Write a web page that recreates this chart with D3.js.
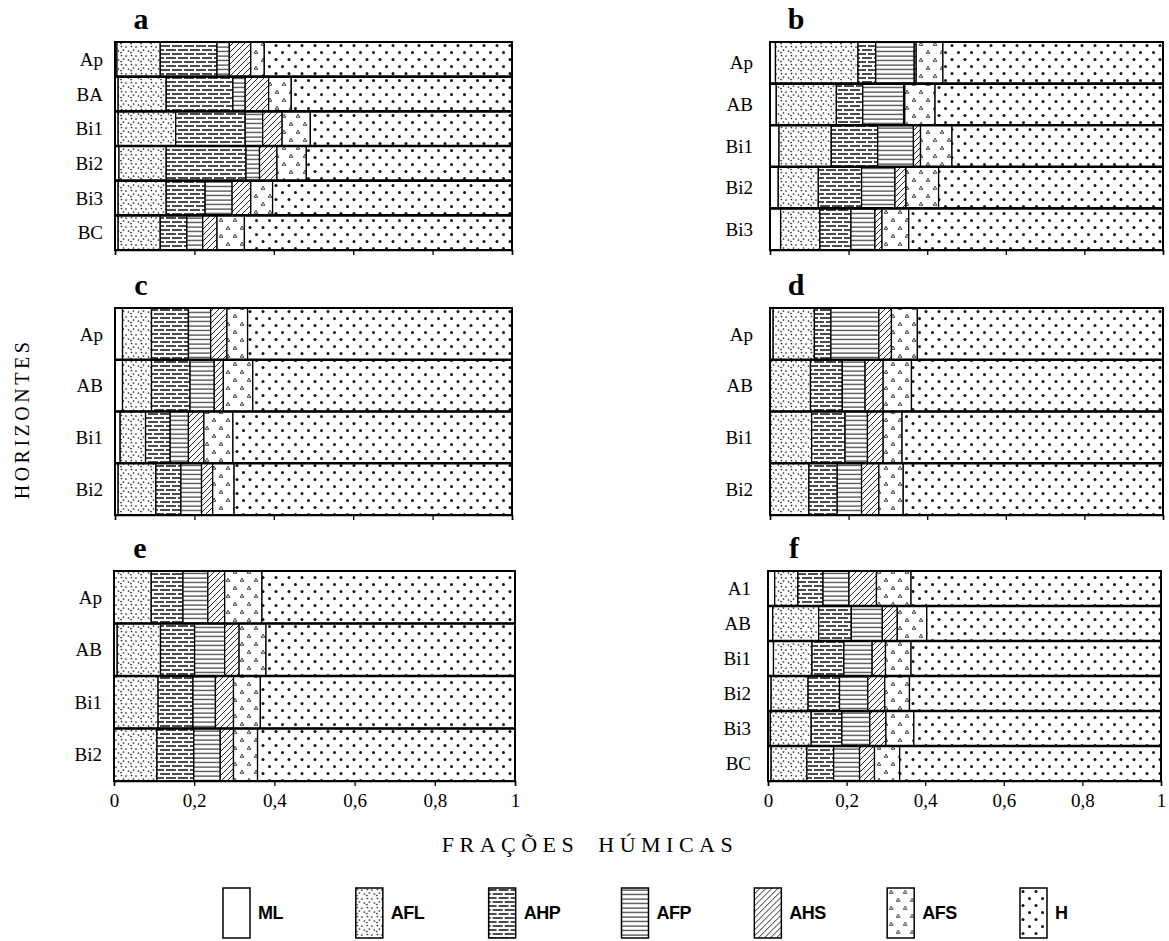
<!DOCTYPE html>
<html>
<head>
<meta charset="utf-8">
<script src="https://cdn.jsdelivr.net/npm/d3@7"></script>
<style>
  body { margin: 0; background: #fff; }
  svg { display: block; }
</style>
</head>
<body>
<div id="chart"></div>
<script>
// fractions, in stacking order from left to right
var fractions = ["ML", "AFL", "AHP", "AFP", "AHS", "AFS", "H"];

var xTicks = [0, 0.2, 0.4, 0.6, 0.8, 1];
var xTickLabels = ["0", "0,2", "0,4", "0,6", "0,8", "1"];

// each row: ML, AFL, AHP, AFP, AHS, AFS, H
var horizonsA = ["Ap", "BA", "Bi1", "Bi2", "Bi3", "BC"];
var valuesA = [
  [0.005, 0.109, 0.143, 0.031, 0.054, 0.034, 0.624],
  [0.008, 0.121, 0.168, 0.031, 0.059, 0.057, 0.556],
  [0.008, 0.145, 0.175, 0.044, 0.049, 0.071, 0.508],
  [0.010, 0.119, 0.201, 0.034, 0.044, 0.074, 0.518],
  [0.008, 0.121, 0.098, 0.068, 0.047, 0.055, 0.603],
  [0.008, 0.106, 0.067, 0.040, 0.036, 0.069, 0.674]
];

var horizonsB = ["Ap", "AB", "Bi1", "Bi2", "Bi3"];
var valuesB = [
  [0.014, 0.210, 0.045, 0.098, 0.005, 0.068, 0.560],
  [0.016, 0.153, 0.067, 0.104, 0.003, 0.077, 0.580],
  [0.023, 0.133, 0.118, 0.091, 0.018, 0.080, 0.537],
  [0.021, 0.102, 0.110, 0.085, 0.028, 0.083, 0.571],
  [0.027, 0.100, 0.079, 0.061, 0.018, 0.068, 0.647]
];

var horizonsC = ["Ap", "AB", "Bi1", "Bi2"];
var valuesC = [
  [0.019, 0.073, 0.093, 0.056, 0.041, 0.052, 0.666],
  [0.019, 0.073, 0.097, 0.061, 0.023, 0.074, 0.653],
  [0.013, 0.064, 0.062, 0.046, 0.039, 0.073, 0.703],
  [0.008, 0.095, 0.063, 0.052, 0.028, 0.054, 0.700]
];

var horizonsD = ["Ap", "AB", "Bi1", "Bi2"];
var valuesD = [
  [0.008, 0.105, 0.042, 0.122, 0.032, 0.066, 0.625],
  [0.000, 0.103, 0.081, 0.058, 0.046, 0.072, 0.640],
  [0.000, 0.106, 0.085, 0.057, 0.040, 0.048, 0.664],
  [0.000, 0.099, 0.072, 0.062, 0.044, 0.062, 0.661]
];

var horizonsE = ["Ap", "AB", "Bi1", "Bi2"];
var valuesE = [
  [0.000, 0.093, 0.079, 0.062, 0.042, 0.093, 0.631],
  [0.008, 0.108, 0.085, 0.075, 0.036, 0.067, 0.621],
  [0.000, 0.110, 0.087, 0.056, 0.045, 0.067, 0.635],
  [0.000, 0.107, 0.092, 0.066, 0.033, 0.060, 0.642]
];

var horizonsF = ["A1", "AB", "Bi1", "Bi2", "Bi3", "BC"];
var valuesF = [
  [0.017, 0.059, 0.064, 0.066, 0.070, 0.088, 0.636],
  [0.012, 0.117, 0.083, 0.079, 0.038, 0.075, 0.596],
  [0.014, 0.098, 0.081, 0.072, 0.034, 0.065, 0.636],
  [0.008, 0.094, 0.080, 0.072, 0.043, 0.063, 0.640],
  [0.006, 0.104, 0.078, 0.071, 0.041, 0.071, 0.629],
  [0.008, 0.091, 0.068, 0.066, 0.038, 0.064, 0.665]
];

var svgWidth = 1169;
var svgHeight = 941;

var svg = d3.select("#chart")
  .append("svg")
  .attr("width", svgWidth)
  .attr("height", svgHeight);

// ---- fill patterns ----
var defs = svg.append("defs");

// ML: empty
defs.append("pattern").attr("id", "p-ML")
  .attr("patternUnits", "userSpaceOnUse").attr("width", 4).attr("height", 4)
  .append("rect").attr("width", 4).attr("height", 4).attr("fill", "#fff");

// AFL: fine sparse dots
var pAFL = defs.append("pattern").attr("id", "p-AFL")
  .attr("patternUnits", "userSpaceOnUse").attr("width", 10).attr("height", 9);
pAFL.append("rect").attr("width", 10).attr("height", 9).attr("fill", "#fff");
[[1.5, 1.5], [6, 2], [3.5, 5], [8.5, 6], [1, 7.5]].forEach(function(p) {
  pAFL.append("circle").attr("cx", p[0]).attr("cy", p[1]).attr("r", 0.85).attr("fill", "#222");
});

// AHP: dashed horizontal lines
var pAHP = defs.append("pattern").attr("id", "p-AHP")
  .attr("patternUnits", "userSpaceOnUse").attr("width", 12).attr("height", 8);
pAHP.append("rect").attr("width", 12).attr("height", 8).attr("fill", "#fff");
pAHP.append("path")
  .attr("d", "M0,2H8 M10,2H12 M0,6H2 M4,6H12")
  .attr("stroke", "#111").attr("stroke-width", 1.5);

// AFP: solid horizontal lines
var pAFP = defs.append("pattern").attr("id", "p-AFP")
  .attr("patternUnits", "userSpaceOnUse").attr("width", 8).attr("height", 4.5);
pAFP.append("rect").attr("width", 8).attr("height", 4.5).attr("fill", "#fff");
pAFP.append("path").attr("d", "M0,2H8").attr("stroke", "#111").attr("stroke-width", 1);

// AHS: diagonal hatch
var pAHS = defs.append("pattern").attr("id", "p-AHS")
  .attr("patternUnits", "userSpaceOnUse").attr("width", 6).attr("height", 6);
pAHS.append("rect").attr("width", 6).attr("height", 6).attr("fill", "#fff");
pAHS.append("path").attr("d", "M-1,7L7,-1 M-1,1L1,-1 M5,7L7,5")
  .attr("stroke", "#111").attr("stroke-width", 0.9);

// AFS: small open triangles
var pAFS = defs.append("pattern").attr("id", "p-AFS")
  .attr("patternUnits", "userSpaceOnUse").attr("width", 14).attr("height", 16);
pAFS.append("rect").attr("width", 14).attr("height", 16).attr("fill", "#fff");
[[4, 4], [11, 12]].forEach(function(p) {
  pAFS.append("path")
    .attr("d", "M" + p[0] + "," + (p[1] - 1.8) + "L" + (p[0] + 1.8) + "," + (p[1] + 1.3) + "L" + (p[0] - 1.8) + "," + (p[1] + 1.3) + "Z")
    .attr("fill", "none").attr("stroke", "#111").attr("stroke-width", 0.8);
});

// H: larger staggered dots
var pH = defs.append("pattern").attr("id", "p-H")
  .attr("patternUnits", "userSpaceOnUse").attr("width", 13).attr("height", 14);
pH.append("rect").attr("width", 13).attr("height", 14).attr("fill", "#fff");
[[3, 3.5], [9.5, 10.5]].forEach(function(p) {
  pH.append("circle").attr("cx", p[0]).attr("cy", p[1]).attr("r", 1.5).attr("fill", "#111");
});

// ---- panels ----
var panels = [
  { name: "a", horizons: horizonsA, values: valuesA, x0: 115, x1: 512, y0: 42, y1: 250, left: true, labels: false },
  { name: "b", horizons: horizonsB, values: valuesB, x0: 770, x1: 1163, y0: 42, y1: 250, left: false, labels: false },
  { name: "c", horizons: horizonsC, values: valuesC, x0: 115, x1: 512, y0: 308, y1: 515, left: true, labels: false },
  { name: "d", horizons: horizonsD, values: valuesD, x0: 770, x1: 1163, y0: 308, y1: 515, left: false, labels: false },
  { name: "e", horizons: horizonsE, values: valuesE, x0: 114, x1: 515, y0: 571, y1: 781, left: true, labels: true },
  { name: "f", horizons: horizonsF, values: valuesF, x0: 768, x1: 1161, y0: 571, y1: 781, left: false, labels: true }
];

var stack = d3.stack().keys(fractions);

panels.forEach(function(p) {
  var g = svg.append("g");

  var xScale = d3.scaleLinear().domain([0, 1]).range([p.x0, p.x1]);
  var yScale = d3.scaleBand().domain(p.horizons).range([p.y0, p.y1]);

  var rows = p.values.map(function(v, i) {
    var o = { horizon: p.horizons[i] };
    fractions.forEach(function(f, j) { o[f] = v[j]; });
    return o;
  });

  var series = stack(rows);

  g.selectAll("g.series")
    .data(series)
    .enter()
    .append("g")
    .attr("class", "series")
    .attr("fill", function(s) { return "url(#p-" + s.key + ")"; })
    .selectAll("rect")
    .data(function(s) { return s; })
    .enter()
    .append("rect")
    .attr("x", function(d) { return xScale(d[0]); })
    .attr("y", function(d) { return yScale(d.data.horizon); })
    .attr("width", function(d) { return Math.max(0, xScale(d[1]) - xScale(d[0])); })
    .attr("height", yScale.bandwidth())
    .attr("stroke", "#000")
    .attr("stroke-width", 1.3);

  // thick separators between horizons
  g.selectAll("line.sep")
    .data(p.horizons.slice(1))
    .enter()
    .append("line")
    .attr("x1", p.x0).attr("x2", p.x1)
    .attr("y1", function(d) { return yScale(d); })
    .attr("y2", function(d) { return yScale(d); })
    .attr("stroke", "#000")
    .attr("stroke-width", 2.6);

  // frame
  g.append("rect")
    .attr("x", p.x0).attr("y", p.y0)
    .attr("width", p.x1 - p.x0).attr("height", p.y1 - p.y0)
    .attr("fill", "none")
    .attr("stroke", "#000")
    .attr("stroke-width", 2);

  // horizon labels
  g.selectAll("text.hz")
    .data(p.horizons)
    .enter()
    .append("text")
    .attr("x", p.left ? p.x0 - 12 : p.x0 - 17)
    .attr("y", function(d) { return yScale(d) + yScale.bandwidth() / 2; })
    .attr("dy", "0.35em")
    .attr("text-anchor", "end")
    .attr("font-family", "Liberation Serif, Times New Roman, serif")
    .attr("font-size", "19px")
    .text(function(d) { return d; });

  // panel letter
  g.append("text")
    .attr("x", p.x0 + 26)
    .attr("y", p.y0 - 13)
    .attr("text-anchor", "middle")
    .attr("font-family", "Liberation Serif, Times New Roman, serif")
    .attr("font-weight", "bold")
    .attr("font-size", "30px")
    .text(p.name);

  // x axis
  var xAxis = d3.axisBottom(xScale)
    .tickValues(xTicks)
    .tickSize(5)
    .tickFormat(function(d, i) { return p.labels ? xTickLabels[i] : ""; });

  var axisG = g.append("g")
    .attr("transform", "translate(0," + p.y1 + ")")
    .call(xAxis);

  axisG.select(".domain").attr("stroke-width", 1.5);
  axisG.selectAll(".tick line").attr("stroke-width", 1.3);
  axisG.selectAll(".tick text")
    .attr("y", 13)
    .attr("font-family", "Liberation Serif, Times New Roman, serif")
    .attr("font-size", "19px")
    .attr("fill", "#000");
});

// axis titles
svg.append("text")
  .attr("x", 590)
  .attr("y", 852)
  .attr("text-anchor", "middle")
  .attr("font-family", "Liberation Serif, Times New Roman, serif")
  .attr("font-size", "22px")
  .attr("letter-spacing", "5.5px")
  .attr("word-spacing", "8px")
  .text("FRAÇÕES HÚMICAS");

svg.append("text")
  .attr("transform", "translate(29,419) rotate(-90)")
  .attr("text-anchor", "middle")
  .attr("font-family", "Liberation Serif, Times New Roman, serif")
  .attr("font-size", "20px")
  .attr("letter-spacing", "3.5px")
  .text("HORIZONTES");

// legend
var legendX = d3.scaleLinear().domain([0, fractions.length - 1]).range([223, 1020]);

var legend = svg.selectAll("g.legend")
  .data(fractions)
  .enter()
  .append("g")
  .attr("class", "legend")
  .attr("transform", function(d, i) { return "translate(" + legendX(i) + ",888)"; });

legend.append("rect")
  .attr("width", 27)
  .attr("height", 50)
  .attr("fill", function(d) { return "url(#p-" + d + ")"; })
  .attr("stroke", "#000")
  .attr("stroke-width", 1.5);

legend.append("text")
  .attr("x", 35)
  .attr("y", 31)
  .attr("font-family", "Liberation Sans, Arial, sans-serif")
  .attr("font-weight", "bold")
  .attr("font-size", "18px")
  .attr("letter-spacing", "-0.5px")
  .text(function(d) { return d; });
</script>
</body>
</html>
